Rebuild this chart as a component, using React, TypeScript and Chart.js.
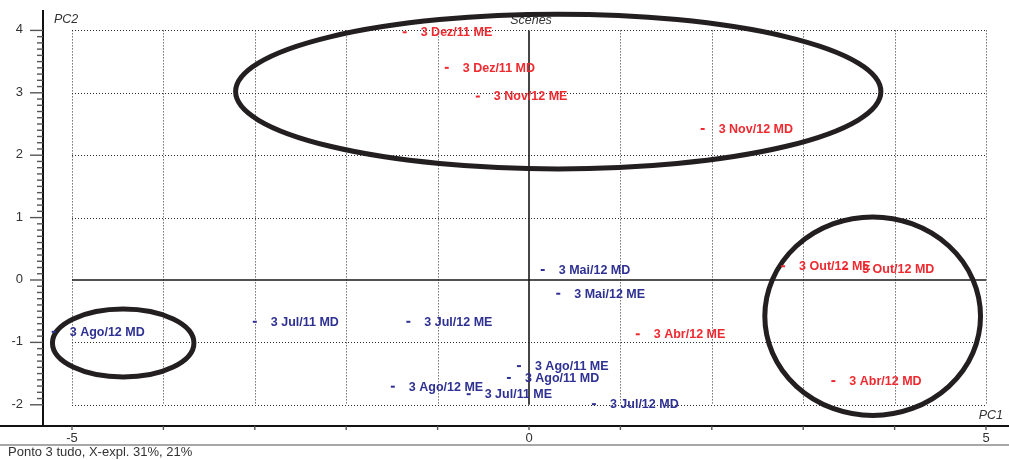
import React, { useEffect, useRef } from "react";
import { Chart, registerables } from "chart.js";

Chart.register(...registerables);

// ---- Data ----
const redLabels = [
  "3 Dez/11 ME", "3 Dez/11 MD", "3 Nov/12 ME", "3 Nov/12 MD",
  "3 Out/12 ME", "3 Out/12 MD", "3 Abr/12 ME", "3 Abr/12 MD",
];
const redX = [-1.36, -0.9, -0.56, 1.9, 2.78, 3.47, 1.19, 3.33];
const redY = [3.97, 3.4, 2.94, 2.42, 0.22, 0.18, -0.87, -1.62];

const blueLabels = [
  "3 Mai/12 MD", "3 Mai/12 ME", "3 Jul/11 MD", "3 Jul/12 ME", "3 Ago/12 MD",
  "3 Ago/11 ME", "3 Ago/11 MD", "3 Ago/12 ME", "3 Jul/11 ME", "3 Jul/12 MD",
];
const blueX = [0.15, 0.32, -3.0, -1.32, -5.2, -0.11, -0.22, -1.49, -0.66, 0.71];
const blueY = [0.16, -0.22, -0.67, -0.67, -0.83, -1.38, -1.57, -1.71, -1.83, -1.99];

const xGridValues = [-5, -4, -3, -2, -1, 0, 1, 2, 3, 4, 5];
const xTickLabels = ["-5", "0", "5"];
const yGridValues = [-2, -1, 0, 1, 2, 3, 4];
const yTickLabels = ["-2", "-1", "0", "1", "2", "3", "4"];

const ellipseCx = [0.32, 3.76, -4.44];
const ellipseCy = [3.02, -0.58, -1.01];
const ellipseRx = [3.53, 1.18, 0.774];
const ellipseRy = [1.24, 1.59, 0.545];

const RED = "#ee2a30";
const BLUE = "#2e3192";
const FONT = "'Liberation Sans', Arial, sans-serif";

const decorPlugin = {
  id: "decor",
  beforeDatasetsDraw(chart: any) {
    const { ctx, scales } = chart;
    const xs = scales.x;
    const ys = scales.y;
    const px = (v: number) => xs.getPixelForValue(v);
    const py = (v: number) => ys.getPixelForValue(v);
    const xMin = xGridValues[0];
    const xMax = xGridValues[xGridValues.length - 1];
    const yMin = yGridValues[0];
    const yMax = yGridValues[yGridValues.length - 1];

    ctx.save();
    // dotted grid
    ctx.strokeStyle = "#2a2a2a";
    ctx.lineWidth = 1;
    ctx.setLineDash([1, 2]);
    for (const v of xGridValues) {
      if (v === 0) continue;
      const x = Math.round(px(v)) + 0.5;
      ctx.beginPath();
      ctx.moveTo(x, py(yMax));
      ctx.lineTo(x, py(yMin));
      ctx.stroke();
    }
    for (const v of yGridValues) {
      if (v === 0) continue;
      const y = Math.round(py(v)) + 0.5;
      ctx.beginPath();
      ctx.moveTo(px(xMin), y);
      ctx.lineTo(px(xMax), y);
      ctx.stroke();
    }
    ctx.setLineDash([]);
    // solid zero lines
    ctx.strokeStyle = "#1a1a1a";
    ctx.lineWidth = 1.6;
    ctx.beginPath();
    ctx.moveTo(px(0), py(yMax));
    ctx.lineTo(px(0), py(yMin));
    ctx.moveTo(px(xMin), py(0));
    ctx.lineTo(px(xMax), py(0));
    ctx.stroke();

    // axes
    const axX = xs.left;
    const axY = ys.bottom;
    ctx.strokeStyle = "#111";
    ctx.lineWidth = 2;
    ctx.beginPath();
    ctx.moveTo(axX, ys.top);
    ctx.lineTo(axX, axY);
    ctx.moveTo(0, axY);
    ctx.lineTo(chart.width, axY);
    ctx.stroke();

    // y ticks (major + minor)
    ctx.strokeStyle = "#555";
    ctx.lineWidth = 1.4;
    for (let i = 0; i <= (yMax - yMin) * 10; i++) {
      const v = yMin + i / 10;
      const y = py(v);
      const major = i % 10 === 0;
      ctx.beginPath();
      ctx.moveTo(axX - (major ? 13 : 6), y);
      ctx.lineTo(axX, y);
      ctx.stroke();
    }
    // x ticks
    for (const v of xGridValues) {
      const x = px(v);
      ctx.beginPath();
      ctx.moveTo(x, axY);
      ctx.lineTo(x, axY + 4);
      ctx.stroke();
    }

    // tick labels
    ctx.fillStyle = "#333";
    ctx.font = `13px ${FONT}`;
    ctx.textAlign = "right";
    ctx.textBaseline = "middle";
    yTickLabels.forEach((t) => {
      ctx.fillText(t, 23, py(parseFloat(t)) - 0.5);
    });
    ctx.textAlign = "center";
    xTickLabels.forEach((t) => {
      ctx.fillText(t, px(parseFloat(t)), axY + 12);
    });

    // lower gray line and caption
    ctx.strokeStyle = "#8a8a8a";
    ctx.lineWidth = 1.4;
    ctx.beginPath();
    ctx.moveTo(0, axY + 19);
    ctx.lineTo(chart.width, axY + 19);
    ctx.stroke();
    ctx.fillStyle = "#333";
    ctx.textAlign = "left";
    ctx.font = `13px ${FONT}`;
    ctx.fillText("Ponto 3 tudo, X-expl. 31%, 21%", 8, axY + 26);

    // axis titles
    ctx.font = `italic 12.5px ${FONT}`;
    ctx.fillText("PC2", 54, 20);
    ctx.textAlign = "center";
    ctx.fillText("Scenes", px(0) + 2, 21);
    ctx.textAlign = "right";
    ctx.fillText("PC1", 1003, axY - 10);

    // ellipses
    ctx.strokeStyle = "#231f20";
    ctx.lineWidth = 5;
    for (let i = 0; i < ellipseCx.length; i++) {
      const cx = px(ellipseCx[i]);
      const cy = py(ellipseCy[i]);
      const rx = Math.abs(px(ellipseCx[i] + ellipseRx[i]) - cx);
      const ry = Math.abs(py(ellipseCy[i] + ellipseRy[i]) - cy);
      ctx.beginPath();
      ctx.ellipse(cx, cy, rx, ry, 0, 0, Math.PI * 2);
      ctx.stroke();
    }
    ctx.restore();
  },
  afterDatasetsDraw(chart: any) {
    const { ctx } = chart;
    ctx.save();
    ctx.font = `bold 12.5px ${FONT}`;
    ctx.textAlign = "left";
    ctx.textBaseline = "middle";
    chart.data.datasets.forEach((ds: any, di: number) => {
      const meta = chart.getDatasetMeta(di);
      ctx.fillStyle = ds.borderColor;
      meta.data.forEach((el: any, i: number) => {
        ctx.fillText(ds.labelsText[i], el.x + 16, el.y + 0.5);
      });
    });
    ctx.restore();
  },
};

export default function App() {
  const ref = useRef<HTMLCanvasElement | null>(null);
  useEffect(() => {
    if (!ref.current) return;
    const chart = new Chart(ref.current, {
      type: "scatter",
      data: {
        datasets: [
          {
            label: "red",
            data: redX.map((x, i) => ({ x, y: redY[i] })),
            labelsText: redLabels,
            borderColor: RED,
            backgroundColor: RED,
            pointStyle: "line",
            pointRadius: 2,
            borderWidth: 2,
          } as any,
          {
            label: "blue",
            data: blueX.map((x, i) => ({ x, y: blueY[i] })),
            labelsText: blueLabels,
            borderColor: BLUE,
            backgroundColor: BLUE,
            pointStyle: "line",
            pointRadius: 2,
            borderWidth: 2,
          } as any,
        ],
      },
      options: {
        animation: false,
        responsive: false,
        devicePixelRatio: 1,
        layout: { autoPadding: false, padding: { left: 43, right: 0, top: 10, bottom: 34 } },
        plugins: { legend: { display: false }, tooltip: { enabled: false } },
        scales: {
          x: { type: "linear", display: false, min: -5.3173, max: 5.2516 },
          y: { type: "linear", display: false, min: -2.34, max: 4.327 },
        },
      },
      plugins: [decorPlugin],
    });
    return () => chart.destroy();
  }, []);
  return (
    <div style={{ position: "absolute", left: 0, top: 0, width: 1009, height: 460, background: "#fff" }}>
      <canvas ref={ref} width={1009} height={460} style={{ width: 1009, height: 460 }} />
    </div>
  );
}
